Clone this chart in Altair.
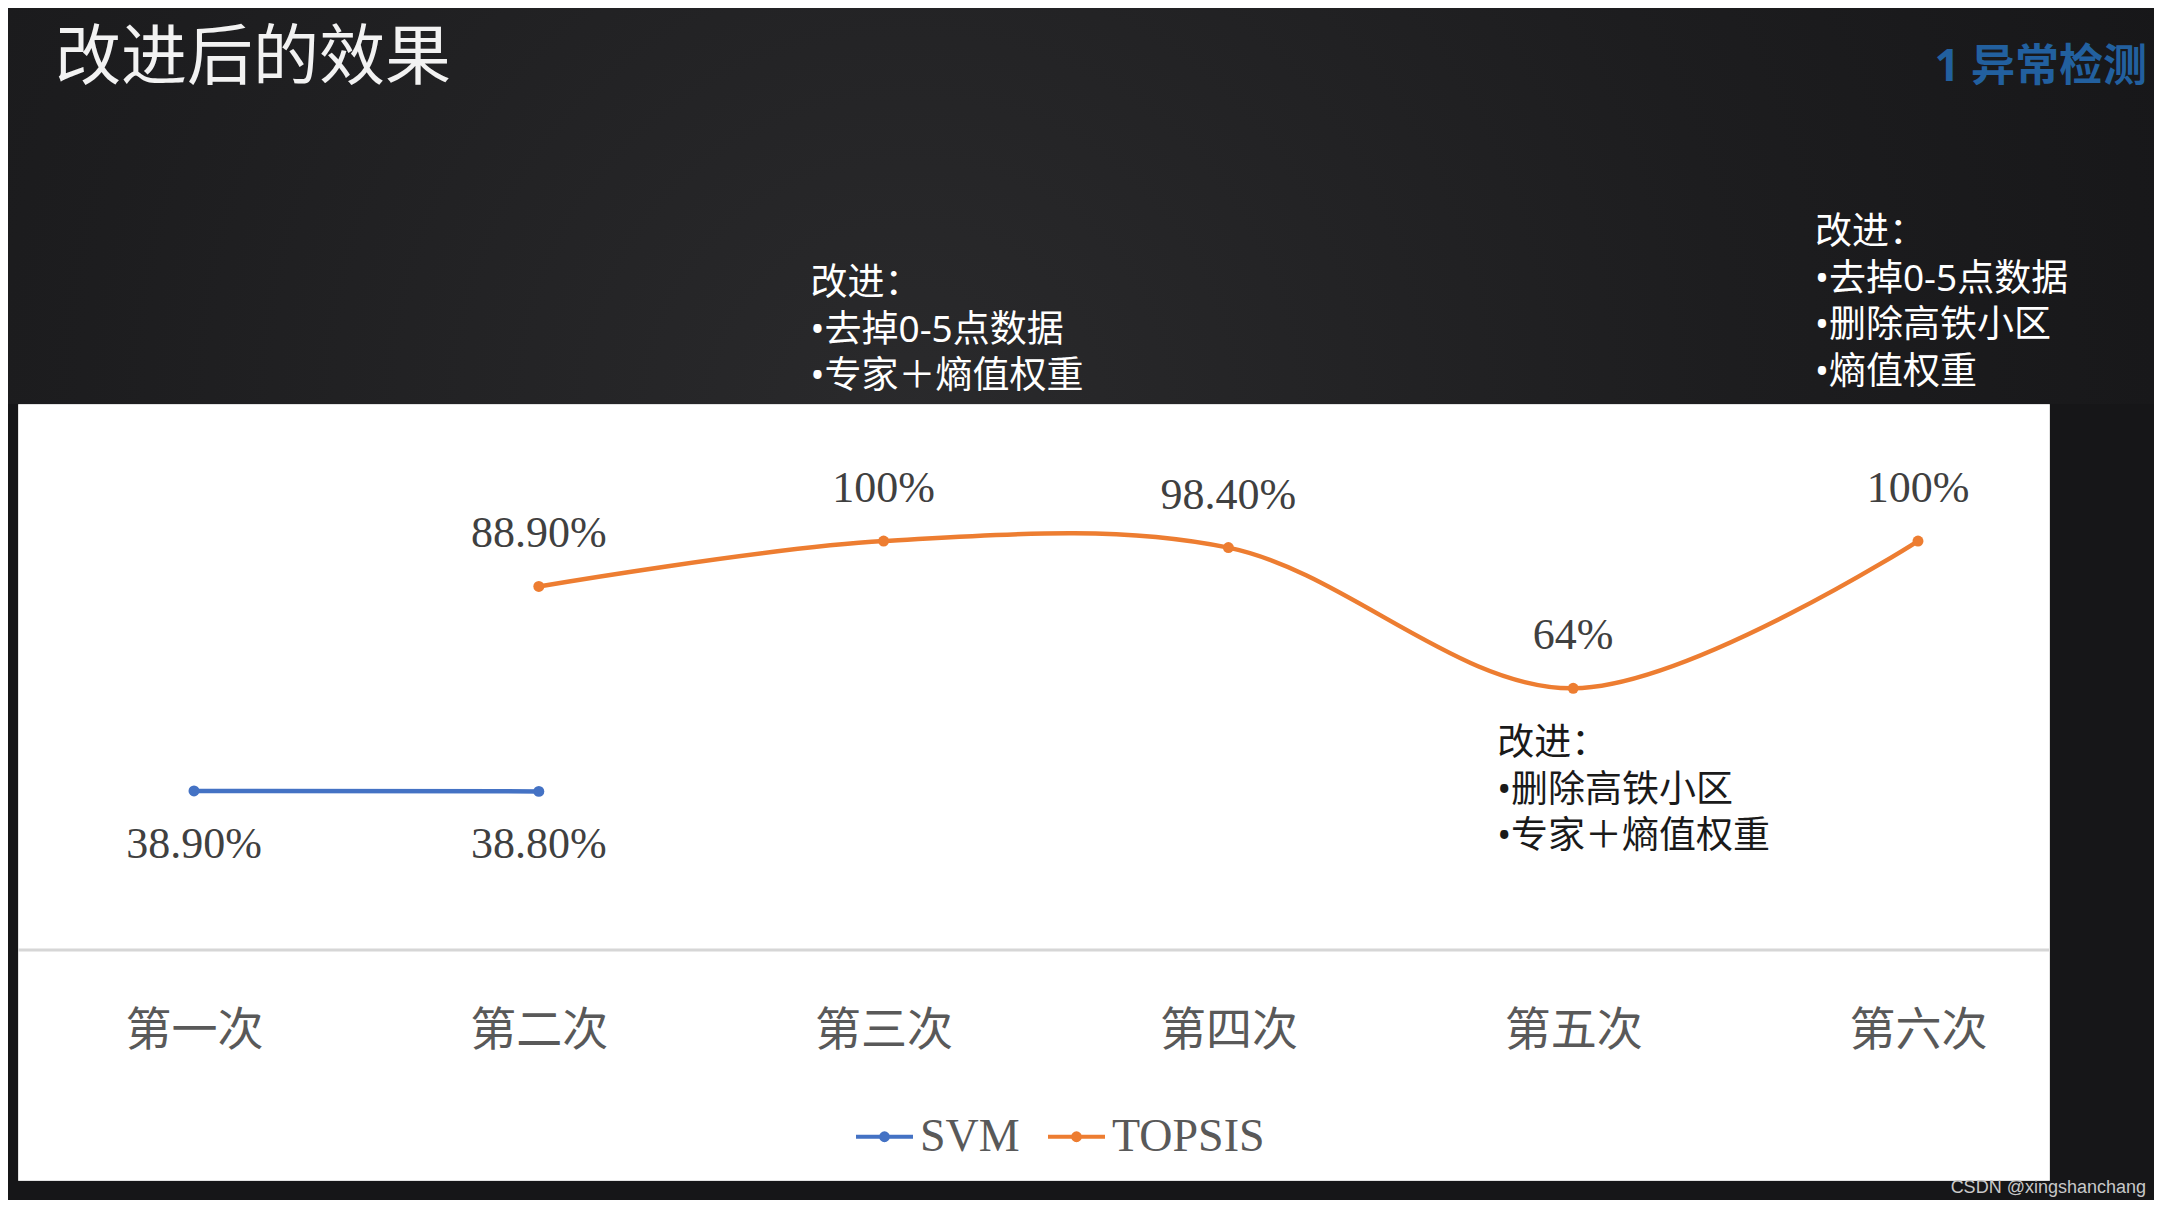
import altair as alt
import pandas as pd

# ---- data ----
categories = ["第一次", "第二次", "第三次", "第四次", "第五次", "第六次"]
series_names = ["SVM", "TOPSIS"]
series_colors = ["#4472C4", "#ED7D31"]

svm_values = [38.9, 38.8, None, None, None, None]
svm_labels = ["38.90%", "38.80%", "", "", "", ""]
topsis_values = [None, 88.9, 100.0, 98.4, 64.0, 100.0]
topsis_labels = ["", "88.90%", "100%", "98.40%", "64%", "100%"]

note_top_a = "改进：\n•去掉0-5点数据\n•专家＋熵值权重"
note_top_b = "改进：\n•去掉0-5点数据\n•删除高铁小区\n•熵值权重"
note_inner = "改进：\n•删除高铁小区\n•专家＋熵值权重"
note_anchor = ["第三次", "第六次", "第五次"]

title_text = "改进后的效果"
section_text = "1 异常检测"
watermark_text = "CSDN @xingshanchang"

# ---- tables ----
rows = []
for c, v, l in zip(categories, svm_values, svm_labels):
    if v is not None:
        rows.append({"cat": c, "series": "SVM", "value": v, "label": l})
for c, v, l in zip(categories, topsis_values, topsis_labels):
    if v is not None:
        rows.append({"cat": c, "series": "TOPSIS", "value": v, "label": l})
df = pd.DataFrame(rows)
svm_df = df[df.series == "SVM"]
top_df = df[df.series == "TOPSIS"]
baseline_df = pd.DataFrame({"value": [0]})
one = pd.DataFrame({"a": [0]})

CJK = "Noto Sans, Noto Sans CJK SC"
SERIF = "Liberation Serif"

x_enc = alt.X(
    "cat:N",
    sort=categories,
    scale=alt.Scale(type="point", range=[176, 1900], padding=0),
    axis=alt.Axis(
        title=None,
        offset=-230,
        domain=False,
        ticks=False,
        grid=False,
        labelAngle=0,
        labelFont=CJK,
        labelFontSize=46,
        labelColor="#595959",
        labelPadding=80,
        labelBaseline="middle",
    ),
)
y_scale = alt.Scale(domain=[-56.2, 133.5], nice=False, zero=False)
y_enc = alt.Y("value:Q", scale=y_scale, axis=None)

legend_symbol = "M-1,0L1,0M-0.12,0a0.12,0.12 0 1,0 0.24,0a0.12,0.12 0 1,0 -0.24,0"
color_enc = alt.Color(
    "series:N",
    scale=alt.Scale(domain=series_names, range=series_colors),
    legend=alt.Legend(
        title=None,
        orient="none",
        legendX=836,
        legendY=702,
        direction="horizontal",
        symbolType=legend_symbol,
        symbolSize=3249,
        symbolStrokeWidth=4,
        symbolOpacity=1,
        labelFont=SERIF,
        labelFontSize=46,
        labelColor="#595959",
        labelOffset=5,
        columnPadding=20,
        padding=0,
    ),
)

# soft glow of the slide background above the white panel
backdrop = alt.Chart(one).mark_rect(
    fill=alt.Gradient(
        gradient="radial",
        x1=0.42, y1=0.6, x2=0.42, y2=0.6, r1=0, r2=0.7,
        stops=[
            alt.GradientStop(offset=0, color="#2a2a2c"),
            alt.GradientStop(offset=0.55, color="#1d1d1f"),
            alt.GradientStop(offset=1, color="#151517"),
        ],
    )
).encode(x=alt.value(-10), x2=alt.value(2136), y=alt.value(-396), y2=alt.value(0))

axis_line = alt.Chart(baseline_df).mark_rule(color="#d6d6d6", strokeWidth=3).encode(
    y=y_enc, x=alt.value(0), x2=alt.value(2031)
)

svm_line = alt.Chart(svm_df).mark_line(strokeWidth=4.5).encode(x=x_enc, y=y_enc, color=color_enc)
top_line = alt.Chart(top_df).mark_line(strokeWidth=4.5, interpolate="catmull-rom").encode(
    x=x_enc, y=y_enc, color=color_enc
)
points = alt.Chart(df).mark_point(filled=True, size=120, opacity=1).encode(
    x=x_enc, y=y_enc, color=color_enc
)

svm_text = alt.Chart(svm_df).mark_text(
    font=SERIF, fontSize=44, color="#404040", baseline="middle", dy=54
).encode(x=x_enc, y=y_enc, text="label:N")
top_text = alt.Chart(top_df).mark_text(
    font=SERIF, fontSize=44, color="#404040", baseline="middle", dy=-52
).encode(x=x_enc, y=y_enc, text="label:N")

note_a = alt.Chart(pd.DataFrame({"cat": [note_anchor[0]], "t": [note_top_a]})).mark_text(
    font=CJK, fontSize=37, color="#ffffff", align="left", baseline="top",
    lineBreak="\n", lineHeight=46.5, dx=-73,
).encode(x=x_enc, y=alt.value(-138), text="t:N")
note_b = alt.Chart(pd.DataFrame({"cat": [note_anchor[1]], "t": [note_top_b]})).mark_text(
    font=CJK, fontSize=37, color="#ffffff", align="left", baseline="top",
    lineBreak="\n", lineHeight=46.5, dx=-103,
).encode(x=x_enc, y=alt.value(-189), text="t:N")
note_c = alt.Chart(pd.DataFrame({"cat": [note_anchor[2]], "t": [note_inner]})).mark_text(
    font=CJK, fontSize=37, color="#1a1a1a", align="left", baseline="top",
    lineBreak="\n", lineHeight=46.5, dx=-76,
).encode(x=x_enc, y=alt.value(322), text="t:N")

title_mark = alt.Chart(pd.DataFrame({"t": [title_text]})).mark_text(
    font=CJK, fontSize=66, color="#f2f2f2", align="left", baseline="middle"
).encode(x=alt.value(37), y=alt.value(-345), text="t:N")
section_mark = alt.Chart(pd.DataFrame({"t": [section_text]})).mark_text(
    font=CJK, fontSize=44, fontWeight="bold", color="#22609f", align="right", baseline="middle"
).encode(x=alt.value(2129), y=alt.value(-336), text="t:N")
watermark_mark = alt.Chart(pd.DataFrame({"t": [watermark_text]})).mark_text(
    font="Liberation Sans", fontSize=18, color="#c8c8c8", align="right", baseline="middle"
).encode(x=alt.value(2128), y=alt.value(784), text="t:N")

chart = (
    alt.layer(
        backdrop, axis_line, svm_line, top_line, points, svm_text, top_text,
        note_a, note_b, note_c, title_mark, section_mark, watermark_mark,
    )
    .properties(
        width=2031,
        height=776,
        autosize=alt.AutoSizeParams(type="none"),
        padding={"left": 10, "top": 396, "right": 105, "bottom": 20},
        background="#161618",
    )
    .configure_view(fill="#ffffff", stroke="#e2e2e2", strokeWidth=1)
)

chart.save("out.html", embed_options={"renderer": "svg", "actions": False})
